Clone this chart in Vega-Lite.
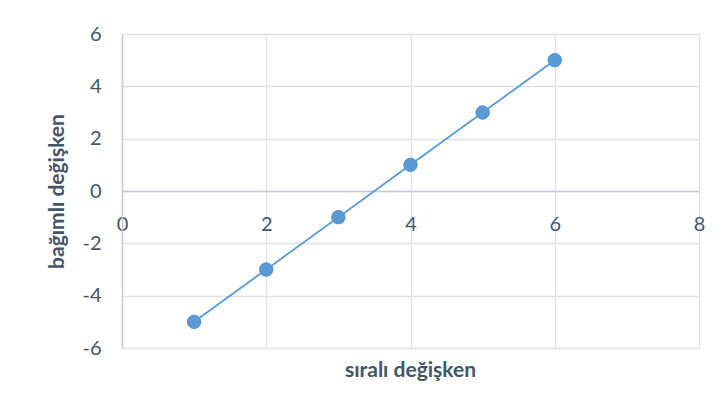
{
  "$schema": "https://vega.github.io/schema/vega-lite/v6.json",
  "autosize": "none",
  "width": 577,
  "height": 314,
  "padding": {"left": 122, "top": 34, "right": 25, "bottom": 69},
  "background": "white",
  "config": {
    "view": {"stroke": null},
    "font": "Lato",
    "axis": {
      "labelFont": "Lato",
      "labelFontSize": 20,
      "labelColor": "#44546A",
      "titleFont": "Lato",
      "titleFontSize": 21,
      "titleFontWeight": "bold",
      "titleColor": "#44546A",
      "gridColor": "#dde1e8",
      "gridWidth": 1.3,
      "domainColor": "#c3cad6",
      "domainWidth": 1.5,
      "ticks": false
    }
  },
  "title": {
    "text": "sıralı değişken",
    "orient": "bottom",
    "anchor": "middle",
    "frame": "group",
    "font": "Lato",
    "fontSize": 21,
    "fontWeight": "bold",
    "color": "#44546A",
    "offset": 2
  },
  "data": {
    "values": [
      {"x": 1, "y": -5},
      {"x": 2, "y": -3},
      {"x": 3, "y": -1},
      {"x": 4, "y": 1},
      {"x": 5, "y": 3},
      {"x": 6, "y": 5}
    ]
  },
  "layer": [
    {
      "mark": {"type": "line", "color": "#5B9BD5", "strokeWidth": 1.8},
      "encoding": {
        "x": {
          "field": "x", "type": "quantitative",
          "scale": {"domain": [0, 8], "nice": false},
          "axis": {"values": [0, 2, 4, 6, 8], "labelExpr": "toString(datum.value)", "labelFontSize": 20, "title": null, "offset": -157, "labelPadding": 23, "labelFlush": false}
        },
        "y": {
          "field": "y", "type": "quantitative",
          "scale": {"domain": [-6, 6], "nice": false},
          "axis": {"values": [-6, -4, -2, 0, 2, 4, 6], "labelExpr": "toString(datum.value)", "labelFontSize": 20, "title": "bağımlı değişken", "labelPadding": 21, "titlePadding": 14}
        }
      }
    },
    {
      "mark": {"type": "point", "filled": true, "color": "#5B9BD5", "size": 180, "opacity": 1, "stroke": "#4F8FCB", "strokeWidth": 1},
      "encoding": {
        "x": {"field": "x", "type": "quantitative"},
        "y": {"field": "y", "type": "quantitative"}
      }
    }
  ]
}
